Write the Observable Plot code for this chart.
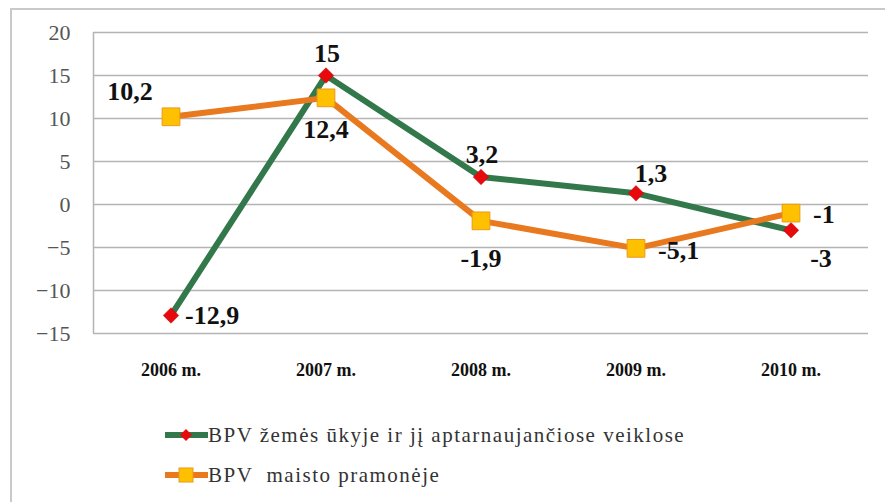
<!DOCTYPE html>
<html>
<head>
<meta charset="utf-8">
<script src="https://cdn.jsdelivr.net/npm/d3@7"></script>
<script src="https://cdn.jsdelivr.net/npm/@observablehq/plot@0.6"></script>
</head>
<body style="margin:0;padding:0;background:#fff">
<div id="wrap" style="position:relative;width:885px;height:502px;overflow:hidden;font-family:'Liberation Serif'">
  <div id="frame" style="position:absolute;left:10px;top:8px;width:880px;height:500px;border:2px solid #c9c9c9;box-sizing:border-box"></div>
  <div id="chart" style="position:absolute;left:0;top:0"></div>
  <div id="legend" style="position:absolute;left:165px;top:415px;font-size:21px;letter-spacing:1.5px;color:#333;font-family:'Liberation Serif'"></div>
</div>
<script>
const years = ["2006 m.", "2007 m.", "2008 m.", "2009 m.", "2010 m."];
const seriesNames = ["BPV žemės ūkyje ir jį aptarnaujančiose veiklose", "BPV  maisto pramonėje"];
const agriculture = [-12.9, 15, 3.2, 1.3, -3];
const food = [10.2, 12.4, -1.9, -5.1, -1];
const yTicks = [-15, -10, -5, 0, 5, 10, 15, 20];
// label placement keywords per point
const agriPlace = ["right", "above", "above", "aboveRight", "belowRight"];
const foodPlace = ["aboveLeft", "below", "below2", "right", "right"];

const green = "#32784b", orange = "#e8791f", red = "#e8090c", gold = "#ffc000";
const serif = "Liberation Serif";
const fmt = v => String(v).replace(".", ",");

const agriData = years.map((y, i) => ({year: y, value: agriculture[i], place: agriPlace[i]}));
const foodData = years.map((y, i) => ({year: y, value: food[i], place: foodPlace[i]}));

const placements = {
  right: {dx: 14, dy: 0, textAnchor: "start"},
  above: {dx: 1, dy: -22, textAnchor: "middle"},
  aboveRight: {dx: 15, dy: -20, textAnchor: "middle"},
  belowRight: {dx: 30, dy: 28, textAnchor: "middle"},
  aboveLeft: {dx: -41, dy: -25, textAnchor: "middle"},
  below: {dx: 0, dy: 32, textAnchor: "middle"},
  below2: {dx: 0, dy: 38, textAnchor: "middle"}
};
const foodPlacements = {...placements, right: {dx: 22, dy: 2, textAnchor: "start"}};

function labelMarks(data, table) {
  return Object.entries(table).map(([k, p]) =>
    Plot.text(data.filter(d => d.place === k), {
      x: "year", y: "value", text: d => fmt(d.value),
      dx: p.dx, dy: p.dy, textAnchor: p.textAnchor,
      fontSize: 26, fontWeight: "bold", fill: "#111", fontFamily: serif
    })
  );
}

const plot = Plot.plot({
  width: 885,
  height: 400,
  marginLeft: 93,
  marginRight: 17,
  marginTop: 32,
  marginBottom: 67,
  style: {background: "transparent", overflow: "visible", fontFamily: serif},
  x: {type: "band", domain: years, padding: 0, label: null},
  y: {domain: [-15, 20], label: null},
  marks: [
    Plot.gridY(yTicks, {stroke: "#b4b4b4", strokeOpacity: 1, strokeWidth: 1.5}),
    Plot.ruleX([years[0]], {x: d => d, dx: -77.5, stroke: "#b4b4b4", strokeWidth: 1.5}),
    Plot.axisY(yTicks, {tickSize: 0, tickPadding: 23, fontSize: 22, fill: "#555", label: null, fontFamily: serif}),
    Plot.axisX({tickSize: 0, tickPadding: 30, fontSize: 18, fontWeight: "bold", fill: "#111", label: null, fontFamily: serif}),
    Plot.line(agriData, {x: "year", y: "value", stroke: green, strokeWidth: 6}),
    Plot.dot(agriData, {x: "year", y: "value", symbol: "diamond2", r: 7, fill: red, stroke: "#c0080a", strokeWidth: 0.5}),
    Plot.line(foodData, {x: "year", y: "value", stroke: orange, strokeWidth: 6}),
    Plot.dot(foodData, {x: "year", y: "value", symbol: "square", r: 10, fill: gold, stroke: "#e89a1a", strokeWidth: 1}),
    ...labelMarks(agriData, placements),
    ...labelMarks(foodData, foodPlacements)
  ]
});
plot.querySelectorAll("text").forEach(t => t.style.setProperty("font-family", serif, "important"));
plot.querySelectorAll('g[aria-label="x-axis tick label"] text').forEach(t => t.style.setProperty("font-weight", "bold"));
document.getElementById("chart").appendChild(plot);

// legend
const legend = document.getElementById("legend");
const swatches = [
  {name: seriesNames[0], line: green, marker: "diamond", fill: red},
  {name: seriesNames[1], line: orange, marker: "square", fill: gold}
];
for (const s of swatches) {
  const item = document.createElement("div");
  item.style.cssText = "display:flex;align-items:center;height:40px;white-space:pre";
  const m = s.marker === "diamond"
    ? `<path d="M21,5 L27,11 L21,17 L15,11 Z" fill="${s.fill}"/>`
    : `<rect x="14" y="4" width="14" height="14" fill="${s.fill}" stroke="#e89a1a"/>`;
  item.innerHTML = `<svg width="43" height="22" style="margin-right:0px"><line x1="0" y1="11" x2="43" y2="11" stroke="${s.line}" stroke-width="6"/>${m}</svg><span style="font-family:'Liberation Serif'">${s.name}</span>`;
  legend.appendChild(item);
}
</script>
</body>
</html>
